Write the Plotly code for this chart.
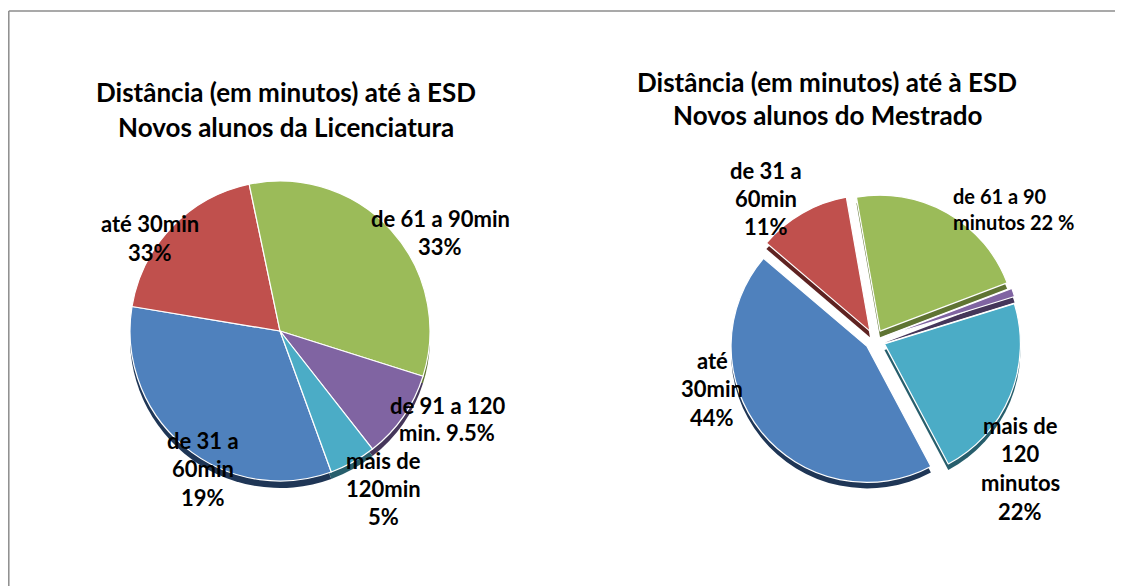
import plotly.graph_objects as go

# ── Data ──────────────────────────────────────────
categories = ['até 30min', 'de 31 a 60min', 'de 61 a 90min',
              'de 91 a 120min', 'mais de 120min']
licenciatura = [33, 19, 33, 9.5, 5]
mestrado = [44, 11, 22, 1, 22]

title_lic = ['Distância (em minutos) até à ESD', 'Novos alunos da Licenciatura']
title_mes = ['Distância (em minutos) até à ESD', 'Novos alunos do Mestrado']

# label text as drawn on the chart (one list of lines per label)
labels_lic = [['até 30min', '33%'],
              ['de 61 a 90min', '33%'],
              ['de 91 a 120', 'min. 9.5%'],
              ['mais de', '120min', '5%'],
              ['de 31 a', '60min', '19%']]
labels_mes = [['de 31 a', '60min', '11%'],
              ['até', '30min', '44%'],
              ['mais de', '120', 'minutos', '22%']]
label_mes_small = ['de 61 a 90', 'minutos 22 %']

colors = ['#4F81BD', '#C0504D', '#9BBB59', '#8064A2', '#4BACC6']
dark = ['#1F3656', '#5E2221', '#5F7433', '#45365A', '#275E6C']

# page body has an 8px margin, so the figure is a bit smaller and
# every position below is given in window pixels and shifted back
OFF = 8
W, H = 1123 - OFF, 586 - OFF
FONT = 'Lato'


def px(x, y):
    return (x - OFF) / W, 1 - (y - OFF) / H


def dom(cx, cy, half):
    x0, y1 = px(cx - half, cy - half)
    x1, y0 = px(cx + half, cy + half)
    return dict(x=[x0, x1], y=[y0, y1])


fig = go.Figure()

# ── Left pie (with a dark rim underneath for the 3D look) ──
rl = 150
fig.add_trace(go.Pie(values=licenciatura, labels=categories, sort=False,
                     direction='clockwise', rotation=160, textinfo='none',
                     marker=dict(colors=dark), domain=dom(280, 338, rl),
                     showlegend=False, hoverinfo='skip'))
fig.add_trace(go.Pie(values=licenciatura, labels=categories, sort=False,
                     direction='clockwise', rotation=160, textinfo='none',
                     marker=dict(colors=colors, line=dict(color='white', width=1.2)),
                     domain=dom(280, 331, rl), showlegend=False))

# ── Right pie (exploded) ──────────────────────────
pull = 0.075
rm = 136
fig.add_trace(go.Pie(values=mestrado, labels=categories, sort=False,
                     direction='clockwise', rotation=152, textinfo='none',
                     pull=pull, marker=dict(colors=dark),
                     domain=dom(875, 346, rm * (1 + pull)),
                     showlegend=False, hoverinfo='skip'))
fig.add_trace(go.Pie(values=mestrado, labels=categories, sort=False,
                     direction='clockwise', rotation=152, textinfo='none',
                     pull=pull,
                     marker=dict(colors=colors, line=dict(color='white', width=1.2)),
                     domain=dom(875, 340, rm * (1 + pull)), showlegend=False))

annotations = []


def add_lines(lines, x, y0, size, step, anchor='center'):
    for i, t in enumerate(lines):
        ax, ay = px(x, y0 + i * step)
        annotations.append(dict(text='<b>' + t + '</b>', x=ax, y=ay,
                                xref='paper', yref='paper', showarrow=False,
                                xanchor=anchor, yanchor='middle',
                                font=dict(family=FONT, size=size, color='black')))


# titles
add_lines(title_lic, 286, 92, 26, 35)
add_lines(title_mes, 827, 82, 26, 33)

# left labels
add_lines(labels_lic[0], 150, 224, 22, 28.5)
add_lines(labels_lic[1], 440, 218, 22, 28.5)
add_lines(labels_lic[2], 447, 405, 22, 27)
add_lines(labels_lic[3], 383, 460, 22, 28.5)
add_lines(labels_lic[4], 203, 440, 22, 28.5)

# right labels
add_lines(labels_mes[0], 766, 170, 22, 28.5)
add_lines(labels_mes[1], 712, 360, 22, 28.5)
add_lines(labels_mes[2], 1020, 425, 22, 28.8)
add_lines(label_mes_small, 951, 196, 20, 26, anchor='left')

top = 1 - (11 - OFF) / H
left = 0.8 / W
fig.update_layout(
    width=W, height=H,
    margin=dict(l=0, r=0, t=0, b=0),
    paper_bgcolor='white',
    annotations=annotations,
    shapes=[
        dict(type='line', xref='paper', yref='paper',
             x0=left, x1=1, y0=top, y1=top,
             line=dict(color='#8C8C8C', width=1.5)),
        dict(type='line', xref='paper', yref='paper',
             x0=left, x1=left, y0=0, y1=top,
             line=dict(color='#8C8C8C', width=1.5)),
    ],
)

fig.write_html("out.html")
